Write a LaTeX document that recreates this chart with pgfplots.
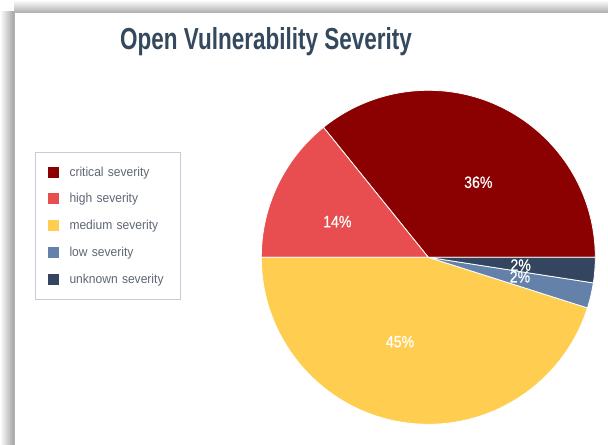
\documentclass[border=0pt]{standalone}
\usepackage{fontspec}
\setmainfont{Liberation Sans}
\newfontfamily\titlefam{Liberation Sans Bold}[FakeStretch=0.74]
\newfontfamily\legfam{Liberation Sans}[FakeStretch=0.93]
\newfontfamily\pctfam{Liberation Sans}[FakeStretch=0.86, FakeBold=0.6]
\usepackage{pgfplots}
\usepackage{pgfplotstable}
\pgfplotsset{compat=1.18}

\definecolor{critcol}{HTML}{8B0000}
\definecolor{highcol}{HTML}{E84E4F}
\definecolor{medcol}{HTML}{FFCE50}
\definecolor{lowcol}{HTML}{6482A9}
\definecolor{unkcol}{HTML}{34455F}
\definecolor{titlecol}{HTML}{34495E}
\definecolor{legtext}{HTML}{5F6675}
\definecolor{legbd}{HTML}{C5CCD9}

\newcommand\titlefont{\titlefam\fontsize{30.5}{36}\selectfont}
\newcommand\legfont{\legfam\fontsize{13}{15}\selectfont}
\newcommand\pctfont{\pctfam\fontsize{16.5}{19}\selectfont}

% share of each severity (percent), label position (angle, fraction of radius)
\pgfplotstableread{
name     value labelangle labelrad color
critical 35.8  56.3       0.540    critcol
high     14.2  158.6      0.585    highcol
medium   45.1  251.5      0.533    medcol
low      2.45  348.0      0.561    lowcol
unknown  2.45  355.2      0.555    unkcol
}\piedata

\begin{document}
\gdef\cumval{0}%
\foreach \i in {0,...,4}{%
  \pgfplotstablegetelem{\i}{value}\of\piedata \let\myv\pgfplotsretval
  \pgfmathsetmacro\sa{\cumval*3.6}%
  \pgfmathsetmacro\sb{(\cumval+\myv)*3.6}%
  \pgfmathsetmacro\sc{\cumval+\myv}%
  \expandafter\xdef\csname sA\i\endcsname{\sa}%
  \expandafter\xdef\csname sB\i\endcsname{\sb}%
  \xdef\cumval{\sc}%
  \pgfmathtruncatemacro\sp{round(\myv)}%
  \expandafter\xdef\csname sP\i\endcsname{\sp}%
  \pgfplotstablegetelem{\i}{color}\of\piedata
  \expandafter\xdef\csname sC\i\endcsname{\pgfplotsretval}%
  \pgfplotstablegetelem{\i}{labelangle}\of\piedata \let\la\pgfplotsretval
  \pgfplotstablegetelem{\i}{labelrad}\of\piedata \let\lr\pgfplotsretval
  \pgfmathsetmacro\lx{\lr*cos(\la)}%
  \pgfmathsetmacro\ly{\lr*sin(\la)}%
  \expandafter\xdef\csname sX\i\endcsname{\lx}%
  \expandafter\xdef\csname sY\i\endcsname{\ly}%
}%
\begin{tikzpicture}
\path[use as bounding box] (0bp,0bp) rectangle (608bp,445bp);
% card shadow
\shade[left color=white, right color=black!36] (0bp,0bp) rectangle (14bp,433bp);
\shade[top color=white, bottom color=black!30] (14bp,433bp) rectangle (608bp,445bp);
\draw[black!30, line width=0.6bp] (14bp,0bp) -- (14bp,433bp) -- (608bp,433bp);

\node[anchor=base, font=\titlefont, text=titlecol, inner sep=0pt] at (266bp,395bp) {Open Vulnerability Severity};

\begin{axis}[
  at={(428.3bp,187.7bp)}, anchor=center,
  scale only axis, width=334bp, height=334bp,
  xmin=-1, xmax=1, ymin=-1, ymax=1,
  hide axis, clip=false,
  legend image code/.code={\fill[#1] (0bp,-5.5bp) rectangle (11bp,5.5bp);},
  legend cell align=left,
  legend style={
    at={(axis description cs:-0.6775,0.8162)}, anchor=north west,
    draw=legbd, line width=1bp, fill=white,
    inner xsep=12bp, inner ysep=14bp,
    row sep=14.8bp,
    font=\legfont, text=legtext,
    nodes={inner sep=0pt, text height=10bp, text depth=2bp},
    /tikz/every odd column/.append style={column sep=11bp},
    /tikz/every even column/.append style={nodes={text width=99bp}},
  },
]
\pgfplotsinvokeforeach{0,...,4}{%
  \edef\temp{\noexpand\fill[fill=\csname sC#1\endcsname, draw=white, line width=0.8bp]
    (axis cs:0,0) -- ++(\csname sA#1\endcsname:167bp)
    arc[start angle=\csname sA#1\endcsname, end angle=\csname sB#1\endcsname, radius=167bp] -- cycle;}%
  \temp
}
\pgfplotsinvokeforeach{0,...,4}{%
  \edef\temp{\noexpand\node[font=\noexpand\pctfont, text=white, inner sep=0pt]
    at (axis cs:\csname sX#1\endcsname,\csname sY#1\endcsname) {\csname sP#1\endcsname\noexpand\%};}%
  \temp
}
\addlegendimage{fill=critcol, draw=none}\addlegendentry{critical severity}
\addlegendimage{fill=highcol, draw=none}\addlegendentry{high severity}
\addlegendimage{fill=medcol, draw=none}\addlegendentry{medium severity}
\addlegendimage{fill=lowcol, draw=none}\addlegendentry{low severity}
\addlegendimage{fill=unkcol, draw=none}\addlegendentry{unknown severity}
\end{axis}
\end{tikzpicture}
\end{document}
